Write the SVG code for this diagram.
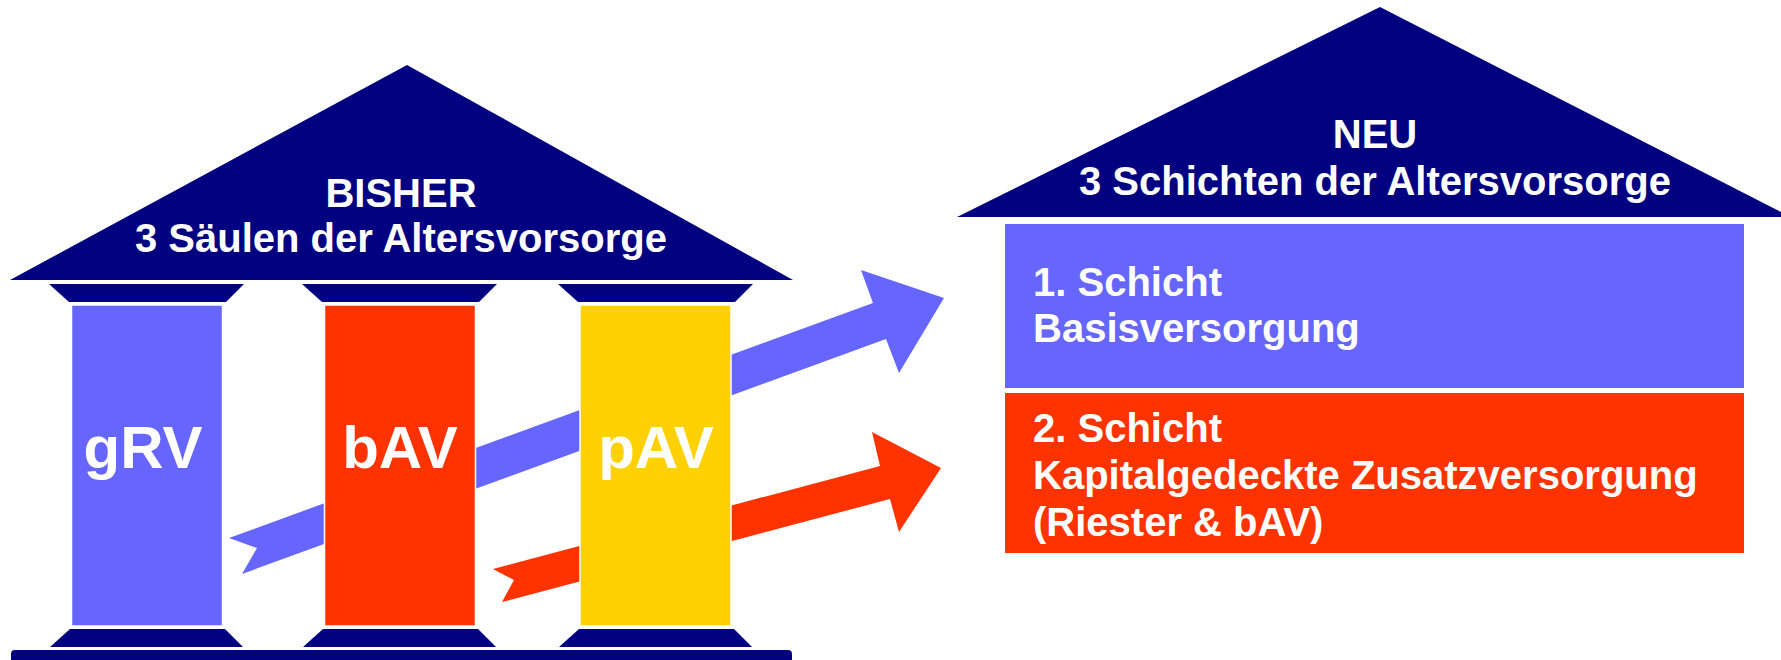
<svg xmlns="http://www.w3.org/2000/svg" width="1781" height="660" viewBox="0 0 1781 660">
<style>
.navy{fill:#000080}
.col{stroke:#ffffff;stroke-width:1.5}
.t{font-family:"Liberation Sans",Arial,sans-serif;font-weight:bold;fill:#ffffff}
.big{font-size:60px;text-anchor:middle}
.h{font-size:40px;text-anchor:middle}
.b{font-size:40px}
</style>
<rect width="1781" height="660" fill="#ffffff"/>
<g id="connectors">
<polygon id="arrow-blue" fill="#6666FF" points="229,538 873,303 861,270 944,298 899,373 886,339 242,574 257,548"/>
<polygon id="arrow-red" fill="#FF3300" points="493,569 880,466 872,432 941,468 899,532 890,499 502,602 514,580"/>
</g>
<g id="bisher-house">
<polygon class="navy" points="10,280 407,65 793,280"/>
<rect class="navy" x="11" y="650" width="781" height="14" rx="4"/>
<text class="t h" x="401" y="207">BISHER</text>
<text class="t h" x="401" y="252">3 Säulen der Altersvorsorge</text>
</g>
<g id="grv">
<polygon class="navy" points="49,284 244,284 226,302 69,302"/>
<polygon class="navy" points="70,629 225,629 243,647 50,647"/>
<rect class="col" x="71.5" y="305" width="151" height="321" fill="#6666FF"/>
<text class="t big" x="143" y="468">gRV</text>
</g>
<g id="bav">
<polygon class="navy" points="302,284 497,284 479,302 322,302"/>
<polygon class="navy" points="323,629 478,629 496,647 303,647"/>
<rect class="col" x="324.5" y="305" width="151" height="321" fill="#FF3300"/>
<text class="t big" x="400" y="468">bAV</text>
</g>
<g id="pav">
<polygon class="navy" points="558,284 753,284 735,302 578,302"/>
<polygon class="navy" points="579,629 734,629 752,647 559,647"/>
<rect class="col" x="580" y="305" width="151" height="321" fill="#FFD100"/>
<text class="t big" x="656" y="468">pAV</text>
</g>
<g id="neu-house">
<polygon class="navy" points="957,217 1380,7 1781,212 1781,217"/>
<text class="t h" x="1375" y="148">NEU</text>
<text class="t h" x="1375" y="195">3 Schichten der Altersvorsorge</text>
</g>
<g id="schicht1">
<rect x="1005" y="224" width="739" height="164" fill="#6666FF"/>
<text class="t b" x="1033" y="296">1. Schicht</text>
<text class="t b" x="1033" y="342">Basisversorgung</text>
</g>
<g id="schicht2">
<rect x="1005" y="393" width="739" height="160" fill="#FF3300"/>
<text class="t b" x="1033" y="442">2. Schicht</text>
<text class="t b" x="1033" y="489">Kapitalgedeckte Zusatzversorgung</text>
<text class="t b" x="1033" y="536">(Riester &amp; bAV)</text>
</g>
</svg>
